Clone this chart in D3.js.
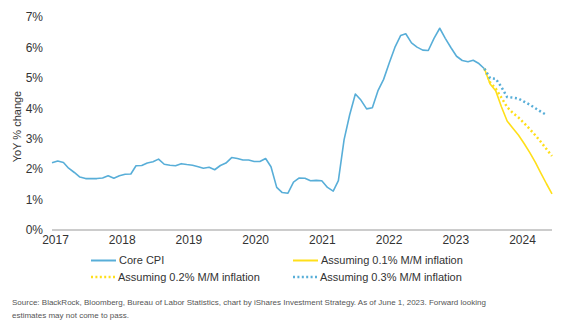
<!DOCTYPE html>
<meta charset="utf-8">
<style>
  body { margin: 0; background: #fff; }
  text { font-family: "Liberation Sans", Arial, sans-serif; fill: #333; }
  .tick text { font-size: 12px; }
  .legend text { font-size: 11px; }
  .source { font-size: 8px; fill: #555; }
</style>
<body>
<script src="https://cdn.jsdelivr.net/npm/d3@7"></script>
<script>
// monthly YoY core CPI, Dec 2016 .. May 2023
var coreStart = new Date(2016, 11, 1);
var coreCpi = [
  2.21,
  2.27, 2.22, 2.03, 1.89, 1.74, 1.69, 1.69, 1.69, 1.71, 1.78, 1.70, 1.78,
  1.83, 1.84, 2.11, 2.12, 2.20, 2.24, 2.33, 2.16, 2.13, 2.11, 2.18, 2.15,
  2.13, 2.08, 2.03, 2.06, 1.98, 2.12, 2.20, 2.38, 2.35, 2.30, 2.30, 2.25,
  2.25, 2.35, 2.08, 1.40, 1.23, 1.21, 1.57, 1.71, 1.70, 1.62, 1.63, 1.62,
  1.40, 1.28, 1.62, 2.97, 3.78, 4.47, 4.27, 3.98, 4.02, 4.57, 4.95, 5.48,
  6.00, 6.39, 6.45, 6.15, 6.01, 5.91, 5.90, 6.30, 6.63, 6.30, 5.99, 5.71,
  5.57, 5.53, 5.58, 5.47, 5.30
];

// projections start from the May 2023 print
var projStart = new Date(2023, 4, 1);
var proj01 = [5.30, 4.80, 4.58, 4.05, 3.58, 3.35, 3.12, 2.85, 2.55, 2.22, 1.88, 1.52, 1.19];
var proj02 = [5.30, 4.85, 4.65, 4.35, 4.04, 3.85, 3.70, 3.52, 3.32, 3.11, 2.90, 2.66, 2.43];
var proj03 = [5.30, 4.99, 4.97, 4.70, 4.37, 4.35, 4.32, 4.22, 4.12, 4.00, 3.89, 3.78];

var years = ["2017", "2018", "2019", "2020", "2021", "2022", "2023", "2024"];
var yTicks = [0, 1, 2, 3, 4, 5, 6, 7];

var series = [
  { name: "Core CPI", values: coreCpi, start: coreStart, color: "#58aed8", dotted: false },
  { name: "Assuming 0.1% M/M inflation", values: proj01, start: projStart, color: "#ffdf1a", dotted: false },
  { name: "Assuming 0.2% M/M inflation", values: proj02, start: projStart, color: "#ffdf1a", dotted: true },
  { name: "Assuming 0.3% M/M inflation", values: proj03, start: projStart, color: "#58aed8", dotted: true }
];

var width = 572, height = 327;

var svg = d3.select("body").append("svg")
    .attr("width", width)
    .attr("height", height);

var x = d3.scaleTime()
    .domain([coreStart, new Date(2024, 4, 1)])
    .range([52, 552]);

var y = d3.scaleLinear()
    .domain([0, 7])
    .range([230, 17]);

// year labels are spread evenly along the axis
var xYears = d3.scalePoint()
    .domain(years)
    .range([55, 522]);

// y axis, labels only
svg.append("g")
    .attr("transform", "translate(46,0)")
    .call(d3.axisLeft(y).tickValues(yTicks).tickFormat(function(d) { return d + "%"; }).tickSize(0).tickPadding(3))
    .call(function(g) { g.select(".domain").remove(); });

svg.append("text")
    .attr("transform", "translate(17," + y(3.4) + ") rotate(-90)")
    .attr("text-anchor", "middle")
    .attr("dy", "0.35em")
    .style("font-size", "11px")
    .text("YoY % change");

// x axis line
svg.append("line")
    .attr("x1", x.range()[0]).attr("x2", x.range()[1])
    .attr("y1", y(0)).attr("y2", y(0))
    .attr("stroke", "#999")
    .attr("stroke-width", 1);

svg.append("g")
    .attr("transform", "translate(0," + y(0) + ")")
    .call(d3.axisBottom(xYears).tickSize(0).tickPadding(5))
    .call(function(g) { g.select(".domain").remove(); });

var line = d3.line()
    .x(function(d) { return x(d.date); })
    .y(function(d) { return y(d.value); });

series.forEach(function(s) {
  var pts = s.values.map(function(v, i) {
    return { date: d3.timeMonth.offset(s.start, i), value: v };
  });
  var p = svg.append("path")
      .datum(pts)
      .attr("fill", "none")
      .attr("stroke", s.color)
      .attr("stroke-width", s.dotted ? 2.5 : 1.6)
      .attr("stroke-linejoin", "round")
      .attr("d", line);
  if (s.dotted) p.attr("stroke-dasharray", "2 2.6");
});

// legend, two columns
var legend = svg.append("g").attr("class", "legend");
var legendPos = [[91, 260.5], [293, 260.5], [91, 277], [293, 277]];

series.forEach(function(s, i) {
  var g = legend.append("g")
      .attr("transform", "translate(" + legendPos[i][0] + "," + legendPos[i][1] + ")");
  var l = g.append("line")
      .attr("x1", 0).attr("x2", 25)
      .attr("stroke", s.color)
      .attr("stroke-width", s.dotted ? 2.5 : 2);
  if (s.dotted) l.attr("stroke-dasharray", "2 2.4");
  g.append("text")
      .attr("x", s.dotted ? 27 : 28)
      .attr("dy", "0.35em")
      .text(s.name);
});

svg.append("text")
    .attr("class", "source")
    .attr("x", 12)
    .attr("y", 305)
    .text("Source: BlackRock, Bloomberg, Bureau of Labor Statistics, chart by iShares Investment Strategy. As of June 1, 2023. Forward looking");

svg.append("text")
    .attr("class", "source")
    .attr("x", 12)
    .attr("y", 318)
    .text("estimates may not come to pass.");
</script>
